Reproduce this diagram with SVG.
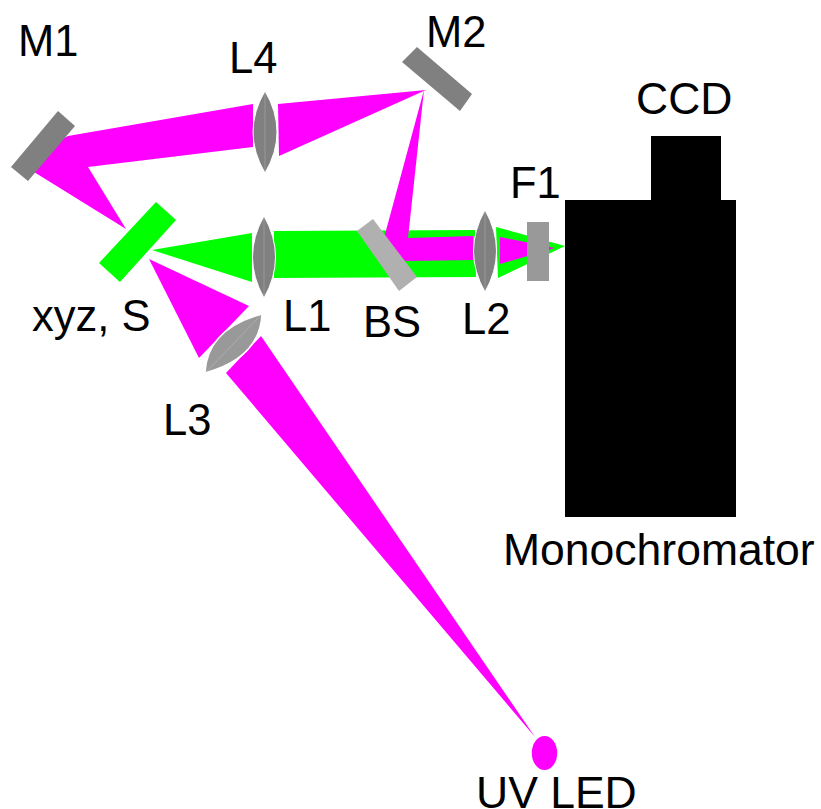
<svg xmlns="http://www.w3.org/2000/svg" width="821" height="809" viewBox="0 0 821 809">
<style>
text{font-family:"Liberation Sans",Arial,sans-serif;font-size:43.5px;fill:#000}
text.big{font-size:44.5px}
.m{fill:#ff00ff}.g{fill:#00ff00}.k{fill:#000}
.mirror{fill:#808080}.lens{fill:#808080;stroke:#fff;stroke-width:1}.lens2{fill:#999;stroke:#fff;stroke-width:1.5}
.axis{stroke:#fff;stroke-opacity:.2;stroke-width:1;fill:none}
</style>
<rect width="821" height="809" fill="#fff"/>
<g id="connectors">
<polygon class="g" points="152,250 252,233 252,282"/>
<polygon class="g" points="274,231 475,230 476,277 274,278"/>
<polygon class="g" points="496,227 565,246 498,278"/>
<polygon class="m" points="535,737 261,336 226,373"/>
<polygon class="m" points="149,259 249,306 199,358"/>
<polygon class="m" points="126,229 34,172 60,140 68,136 253,104 253,147 88,167"/>
<polygon class="m" points="278,104 426,90 279,156"/>
<polygon class="m" points="424,90 384,238 405,261 473,260 473,236 408,238"/>
<polygon class="m" points="500,237 555,248 500,264"/>
</g>
<g id="M1"><polygon class="mirror" points="58,111 75,126 28,181 11,167"/><text x="18" y="56">M1</text></g>
<g id="M2"><polygon class="mirror" points="417,47 472,94 460,111 402,62"/><text x="426" y="47">M2</text></g>
<g id="L4"><path class="lens" d="M265,91Q289,132 265,173Q241,132 265,91Z"/><path class="axis" d="M265,93V171"/><text x="229" y="73">L4</text></g>
<g id="L1"><path class="lens" d="M264,216Q287,257 264,298Q241,257 264,216Z"/><path class="axis" d="M264,218V296"/><text x="283" y="331">L1</text></g>
<g id="L2"><path class="lens" d="M485,210Q508,251 485,292Q462,251 485,210Z"/><path class="axis" d="M485,212V290"/><text x="462" y="334">L2</text></g>
<g id="L3"><path class="lens2" d="M262,314Q260,358 205,373Q207,329 262,314Z"/><path class="axis" d="M260,316L207,371"/><text x="163" y="435">L3</text></g>
<g id="S"><polygon class="g" points="156,202 176,220 120,282 99,263"/><text x="32" y="331">xyz, S</text></g>
<g id="BS"><polygon fill="#b0b0b0" points="373,219 357,231 399,291 417,277"/><text x="363" y="337">BS</text></g>
<g id="F1"><rect x="527" y="222" width="22" height="59" fill="#999"/><text x="510" y="198">F1</text></g>
<g id="Monochromator"><rect class="k" x="565" y="200" width="171" height="317"/><text class="big" x="503" y="565">Monochromator</text></g>
<g id="CCD"><rect class="k" x="651" y="136" width="70" height="65"/><text class="big" x="636" y="114">CCD</text></g>
<g id="UVLED"><ellipse class="m" cx="544.5" cy="753" rx="12.7" ry="17"/><text class="big" x="476" y="808">UV LED</text></g>
</svg>
